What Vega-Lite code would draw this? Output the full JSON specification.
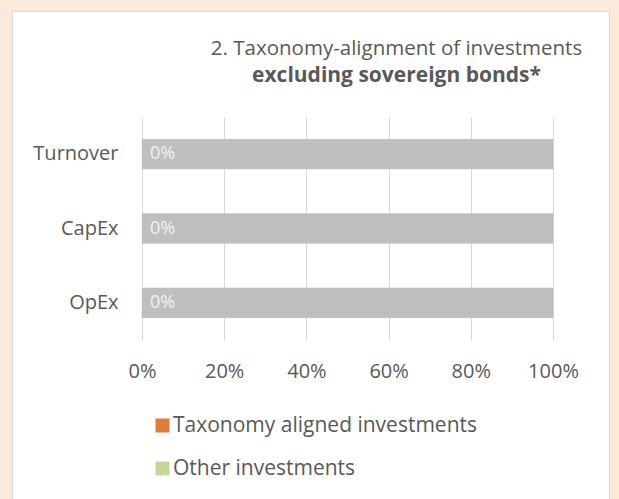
{
  "$schema": "https://vega.github.io/schema/vega-lite/v6.json",
  "width": 597,
  "height": 490,
  "autosize": {"type": "none"},
  "padding": {"left": 12, "top": 11, "right": 10, "bottom": 0},
  "background": "#FBEADB",
  "config": {
    "view": {"fill": "white", "stroke": "#D9D9D9", "strokeWidth": 1},
    "font": "Open Sans"
  },
  "title": {
    "text": "2. Taxonomy-alignment of investments",
    "subtitle": "excluding sovereign bonds*",
    "anchor": "middle",
    "dx": 86,
    "offset": -75,
    "font": "Open Sans",
    "fontSize": 20.5,
    "fontWeight": "normal",
    "color": "#595959",
    "subtitleFont": "Open Sans",
    "subtitleFontSize": 21,
    "subtitleFontWeight": "bold",
    "subtitleColor": "#595959",
    "subtitlePadding": 6
  },
  "data": {
    "values": [
      {"metric": "Turnover", "type": "Taxonomy aligned investments", "value": 0},
      {"metric": "Turnover", "type": "Other investments", "value": 1},
      {"metric": "CapEx", "type": "Taxonomy aligned investments", "value": 0},
      {"metric": "CapEx", "type": "Other investments", "value": 1},
      {"metric": "OpEx", "type": "Taxonomy aligned investments", "value": 0},
      {"metric": "OpEx", "type": "Other investments", "value": 1}
    ]
  },
  "encoding": {
    "y": {
      "field": "metric",
      "type": "nominal",
      "sort": ["Turnover", "CapEx", "OpEx"],
      "scale": {"range": [106, 329], "paddingInner": 0.6, "paddingOuter": 0.3},
      "axis": {
        "title": null,
        "orient": "left",
        "offset": -106,
        "domain": false,
        "ticks": false,
        "tickSize": 0,
        "labelPadding": 0,
        "labelFont": "Open Sans",
        "labelFontSize": 20,
        "labelColor": "#595959",
        "grid": false
      }
    }
  },
  "layer": [
    {
      "mark": {"type": "bar"},
      "encoding": {
        "x": {
          "field": "value",
          "type": "quantitative",
          "scale": {"domain": [0, 1], "range": [130, 541]},
          "axis": {
            "title": null,
            "orient": "top",
            "offset": -366,
            "values": [0, 0.2, 0.4, 0.6, 0.8, 1],
            "format": ".0%",
            "domain": false,
            "ticks": false,
            "tickSize": 0,
            "labelPadding": 0,
            "labelBaseline": "alphabetic",
            "labelFlush": false,
            "labelOverlap": false,
            "labelFont": "Open Sans",
            "labelFontSize": 20,
            "labelColor": "#595959",
            "grid": true,
            "gridColor": "#D9D9D9",
            "gridWidth": 1
          }
        },
        "color": {
          "field": "type",
          "type": "nominal",
          "scale": {
            "domain": ["Taxonomy aligned investments", "Other investments"],
            "range": ["#E07C3C", "#C3D69B"]
          },
          "legend": {
            "title": null,
            "orient": "none",
            "legendX": 140,
            "legendY": 404,
            "direction": "vertical",
            "padding": 0,
            "symbolType": "square",
            "symbolSize": 196,
            "symbolStrokeWidth": 0,
            "labelFont": "Open Sans",
            "labelFontSize": 21,
            "labelColor": "#595959",
            "labelOffset": 0,
            "labelLimit": 400,
            "rowPadding": 21
          }
        }
      }
    },
    {
      "transform": [{"filter": "datum.type === 'Other investments'"}],
      "mark": {"type": "bar", "fill": "#BFBFBF", "stroke": "#BFBFBF", "strokeWidth": 0.5},
      "encoding": {
        "x": {"field": "value", "type": "quantitative"}
      }
    },
    {
      "transform": [{"filter": "datum.type === 'Taxonomy aligned investments'"}],
      "mark": {"type": "text", "align": "left", "baseline": "middle", "dx": 8, "font": "Open Sans", "fontSize": 18, "color": "#F2F2F2"},
      "encoding": {
        "x": {"field": "value", "type": "quantitative", "stack": null},
        "text": {"field": "value", "type": "quantitative", "format": ".0%"}
      }
    }
  ]
}
